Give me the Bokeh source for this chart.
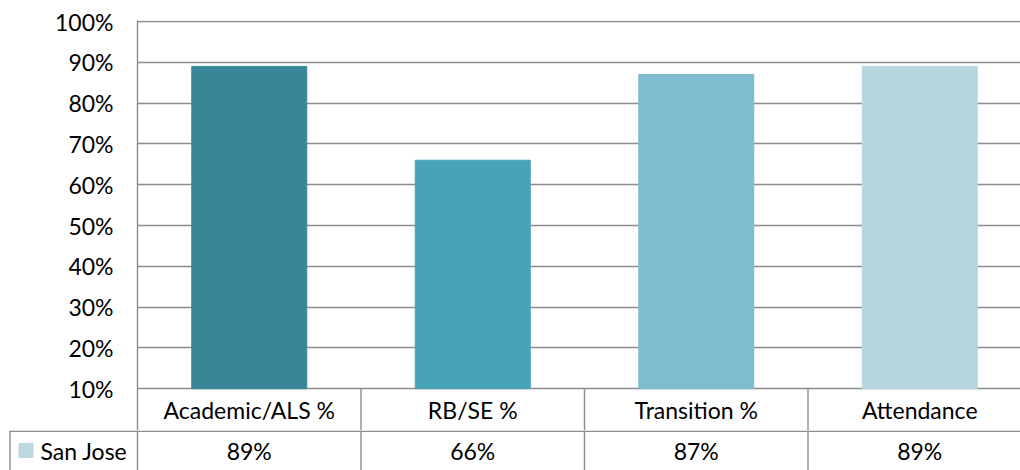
import numpy as np
from bokeh.plotting import figure
from bokeh.layouts import column
from bokeh.models import ColumnDataSource, FixedTicker, NumeralTickFormatter, Range1d
from bokeh.core.properties import value
from bokeh.embed import file_html
from bokeh.resources import INLINE

# ---- data ----
categories = ["Academic/ALS %", "RB/SE %", "Transition %", "Attendance"]
san_jose = [89, 66, 87, 89]
series_name = "San Jose"
y_ticks = [10, 20, 30, 40, 50, 60, 70, 80, 90, 100]

# ---- styles ----
bar_colors = ["#3A8699", "#48A2B9", "#7EBCCF", "#B7D5DF"]
legend_color = "#BCD9E2"
line_color = "#8C8C8C"
FONT = "Lato"
FSIZE = "23px"
LW = 1.4

n = len(categories)
xc = np.arange(n) + 0.5
ppu = 223.5   # pixels per category
ppy = 408.0   # pixels per unit on y (100%)
W = 1020
LEFT, TOP = 137, 20
H1 = 430      # chart + header row
H2 = 40       # series row
x_right = (W - LEFT) / ppu
x_left = -LEFT / ppu
y_top = 1.0 + 1 / ppy
y_bot = y_top - (H1 - TOP) / ppy


def ypx(px):
    return y_top - (px - TOP) / ppy


def xpx(px):
    return (px - LEFT) / ppu


src = ColumnDataSource(dict(
    x=xc,
    top=[v / 100 for v in san_jose],
    color=bar_colors,
))

# ---------- chart + header row ----------
p1 = figure(width=W, height=H1, output_backend="svg", toolbar_location=None,
            x_range=Range1d(0, x_right), y_range=Range1d(y_bot, y_top),
            x_axis_type=None, min_border_left=LEFT, min_border_right=0,
            min_border_top=TOP, min_border_bottom=0)
p1.frame_align = False
p1.outline_line_color = None
p1.background_fill_color = "white"
p1.border_fill_color = "white"
p1.vbar(x="x", top="top", bottom=0.1, width=115 / ppu, color="color", source=src)

ticker = FixedTicker(ticks=[t / 100 for t in y_ticks])
p1.yaxis.ticker = ticker
p1.yaxis.formatter = NumeralTickFormatter(format="0%")
p1.yaxis.axis_line_color = line_color
p1.yaxis.axis_line_width = LW
p1.yaxis.major_tick_line_color = None
p1.yaxis.minor_tick_line_color = None
p1.yaxis.major_tick_out = 0
p1.yaxis.major_tick_in = 0
p1.yaxis.major_label_standoff = 24
p1.yaxis.major_label_text_font = FONT
p1.yaxis.major_label_text_font_size = FSIZE
p1.yaxis.major_label_text_color = "black"
p1.ygrid.ticker = ticker
p1.ygrid.grid_line_color = line_color
p1.ygrid.grid_line_width = LW
p1.xgrid.grid_line_color = None

seps = list(range(1, n))
p1.segment(x0=seps, y0=[0.1] * len(seps), x1=seps, y1=[y_bot] * len(seps),
           line_color=line_color, line_width=LW)
p1.text(x=xc, y=[ypx(409)] * n, text=categories, text_align="center", text_baseline="middle",
        text_font=value(FONT), text_font_size=FSIZE, text_color="black")

# ---------- series row ----------
p2 = figure(width=W, height=H2, output_backend="svg", toolbar_location=None,
            x_range=Range1d(x_left, x_right), y_range=Range1d(-H2, 0),
            x_axis_type=None, y_axis_type=None,
            min_border_left=0, min_border_right=0, min_border_top=0, min_border_bottom=0)
p2.frame_align = False
p2.outline_line_color = None
p2.grid.visible = False
p2.background_fill_color = "white"
p2.border_fill_color = "white"

lb = xpx(9.5)
vx = [lb] + list(range(n))
p2.segment(x0=vx, y0=[0] * len(vx), x1=vx, y1=[-H2] * len(vx),
           line_color=line_color, line_width=LW)
p2.segment(x0=[lb], y0=[-0.7], x1=[x_right], y1=[-0.7], line_color=line_color, line_width=LW)

p2.text(x=xc, y=[-20] * n, text=[f"{v}%" for v in san_jose], text_align="center",
        text_baseline="middle", text_font=value(FONT), text_font_size=FSIZE, text_color="black")
p2.rect(x=[xpx(25.5)], y=[-20], width=14 / ppu, height=14, color=legend_color)
p2.text(x=[xpx(40)], y=[-20], text=[series_name], text_align="left",
        text_baseline="middle", text_font=value(FONT), text_font_size=FSIZE, text_color="black")

layout = column(p1, p2, spacing=0)
open("out.html", "w").write(file_html(layout, INLINE))
